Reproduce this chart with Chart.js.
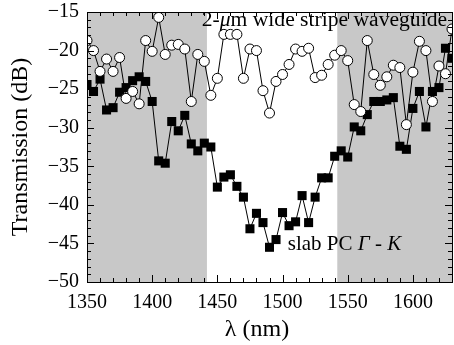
<!DOCTYPE html>
<html>
<head>
<meta charset="utf-8">
<script src="https://cdn.jsdelivr.net/npm/chart.js@4.4.1/dist/chart.umd.min.js"></script>
<style>
  html, body { margin: 0; padding: 0; background: #fff; }
  canvas { display: block; }
</style>
</head>
<body>
<canvas id="chart" width="454" height="345"></canvas>
<script>
// ==================== DATA ====================
const wavelengths = [
  1350, 1355, 1360, 1365, 1370, 1375, 1380, 1385, 1390, 1395,
  1400, 1405, 1410, 1415, 1420, 1425, 1430, 1435, 1440, 1445,
  1450, 1455, 1460, 1465, 1470, 1475, 1480, 1485, 1490, 1495,
  1500, 1505, 1510, 1515, 1520, 1525, 1530, 1535, 1540, 1545,
  1550, 1555, 1560, 1565, 1570, 1575, 1580, 1585, 1590, 1595,
  1600, 1605, 1610, 1615, 1620, 1625, 1630
];

// 2-um wide stripe waveguide (open circles)
const stripeDb = [
  -18.7, -20.0, -22.7, -21.1, -22.7, -20.9, -26.2, -25.3, -26.9, -18.7,
  -20.1, -15.7, -20.5, -19.3, -19.2, -19.8, -26.6, -20.5, -21.4, -25.8,
  -23.6, -17.9, -17.9, -17.9, -23.6, -19.8, -20.0, -25.2, -28.1, -24.0,
  -23.1, -21.8, -19.8, -20.1, -19.7, -23.5, -23.2, -21.8, -20.6, -20.0,
  -21.3, -27.0, -27.9, -18.7, -23.1, -24.5, -23.4, -21.9, -22.2, -29.6,
  -22.8, -18.8, -20.0, -26.6, -22.0, -23.0, -17.2
];

// slab PC Gamma-K (filled squares)
const slabDb = [
  -24.4, -25.3, -23.7, -27.7, -27.4, -25.4, -24.8, -23.9, -23.4, -24.0,
  -26.6, -34.3, -34.6, -29.2, -30.4, -28.4, -32.1, -33.0, -32.0, -32.5,
  -37.7, -36.4, -36.1, -37.6, -39.0, -43.1, -41.1, -42.3, -45.5, -44.5,
  -41.0, -42.7, -42.2, -38.8, -42.3, -39.0, -36.5, -36.5, -33.7, -33.0,
  -33.8, -29.9, -30.4, -28.3, -26.6, -26.6, -26.4, -26.1, -32.4, -32.8,
  -27.5, -25.3, -29.9, -25.3, -24.8, -19.7, -21.0
];

const xTicks = [1350, 1400, 1450, 1500, 1550, 1600];
const yTicks = [-50, -45, -40, -35, -30, -25, -20, -15];
const shadedBands = [[1350, 1442], [1542, 1630]];

// ==================== STYLE ====================
const FONT = "'Liberation Serif', 'DejaVu Serif', serif";
const INK = '#000';
const SHADE = '#c8c8c8';

// ==================== PLUGINS ====================
const shadePlugin = {
  id: 'shade',
  beforeDatasetsDraw(chart) {
    const { ctx, chartArea: a, scales: { x } } = chart;
    ctx.save();
    ctx.fillStyle = SHADE;
    shadedBands.forEach(([from, to]) => {
      const x0 = Math.max(a.left, x.getPixelForValue(from));
      const x1 = Math.min(a.right, x.getPixelForValue(to));
      ctx.fillRect(x0, a.top, x1 - x0, a.bottom - a.top);
    });
    ctx.restore();
  }
};

// draws one line of text made of [text, style] runs
function drawRuns(ctx, runs, x, y, size) {
  runs.forEach(([t, st]) => {
    ctx.font = st + size + 'px ' + FONT;
    ctx.fillText(t, x, y);
    x += ctx.measureText(t).width;
  });
}

const framePlugin = {
  id: 'frame',
  afterDatasetsDraw(chart) {
    const { ctx, chartArea: a, scales: { x, y } } = chart;
    ctx.save();
    ctx.strokeStyle = INK;
    ctx.lineWidth = 1;
    ctx.beginPath();
    // x ticks: major every 50, minor every 10, inward on top and bottom
    for (let v = x.min; v <= x.max + 0.01; v += 10) {
      const px = Math.round(x.getPixelForValue(v)) + 0.5;
      const len = (v - 1350) % 50 === 0 ? 7 : 4;
      ctx.moveTo(px, a.bottom); ctx.lineTo(px, a.bottom - len);
      ctx.moveTo(px, a.top); ctx.lineTo(px, a.top + len);
    }
    // y ticks: major every 5, minor every 1
    for (let v = y.min; v <= y.max + 0.01; v += 1) {
      const py = Math.round(y.getPixelForValue(v)) + 0.5;
      const len = v % 5 === 0 ? 7 : 4;
      ctx.moveTo(a.left, py); ctx.lineTo(a.left + len, py);
      ctx.moveTo(a.right, py); ctx.lineTo(a.right - len, py);
    }
    ctx.stroke();
    ctx.strokeRect(Math.round(a.left) + 0.5, Math.round(a.top) + 0.5,
                   Math.round(a.right - a.left), Math.round(a.bottom - a.top));
    ctx.restore();
  },
  afterDraw(chart) {
    const { ctx, chartArea: a, scales: { x, y } } = chart;
    ctx.save();
    ctx.fillStyle = INK;
    ctx.textBaseline = 'alphabetic';

    drawRuns(ctx, [['2-', ''], ['μ', 'italic '], ['m wide stripe waveguide', '']],
             x.getPixelForValue(1438), y.getPixelForValue(-16.8), 21.6);

    drawRuns(ctx, [['slab PC ', ''], ['Γ', 'italic '], [' - ', ''], ['K', 'italic ']],
             x.getPixelForValue(1504), y.getPixelForValue(-45.9), 21);

    // x axis title, sits a little left of the plot centre in the original
    ctx.font = '24px ' + FONT;
    ctx.textAlign = 'center';
    ctx.textBaseline = 'middle';
    ctx.fillText('λ (nm)', a.left + 170, a.bottom + 48);
    ctx.restore();
  }
};

// ==================== CHART ====================
const toPoints = arr => wavelengths.map((w, i) => ({ x: w, y: arr[i] }));
const minus = v => String(v).replace('-', '\u2212');

new Chart(document.getElementById('chart').getContext('2d'), {
  type: 'line',
  data: {
    datasets: [
      {
        label: '2-μm wide stripe waveguide',
        data: toPoints(stripeDb),
        borderColor: INK,
        borderWidth: 1,
        backgroundColor: '#fff',
        pointStyle: 'circle',
        pointRadius: 5,
        pointBorderWidth: 1,
        pointBorderColor: INK,
        pointBackgroundColor: '#fff',
        tension: 0
      },
      {
        label: 'slab PC Γ-K',
        data: toPoints(slabDb),
        borderColor: INK,
        borderWidth: 1,
        backgroundColor: INK,
        pointStyle: 'rect',
        pointRadius: 6.4,
        pointBorderWidth: 0,
        pointBackgroundColor: INK,
        tension: 0
      }
    ]
  },
  options: {
    responsive: false,
    animation: false,
    clip: 0,
    layout: { autoPadding: false, padding: { top: 12, right: 2, left: 0, bottom: 0 } },
    plugins: { legend: { display: false }, tooltip: { enabled: false } },
    scales: {
      x: {
        type: 'linear',
        min: 1350,
        max: 1630,
        afterBuildTicks: s => { s.ticks = xTicks.map(v => ({ value: v })); },
        afterFit: s => { s.height = 63; s.paddingLeft = 0; s.paddingRight = 0; },
        grid: { display: false, drawTicks: false },
        border: { display: false },
        ticks: { color: INK, padding: 9, maxRotation: 0, font: { family: FONT, size: 20 }, callback: v => String(v) },
        title: { display: false }
      },
      y: {
        min: -50,
        max: -15,
        afterBuildTicks: s => { s.ticks = yTicks.map(v => ({ value: v })); },
        afterFit: s => { s.width = 87; s.paddingTop = 0; s.paddingBottom = 0; },
        grid: { display: false, drawTicks: false },
        border: { display: false },
        ticks: { color: INK, padding: 8, font: { family: FONT, size: 20 }, callback: v => minus(v) },
        title: {
          display: true,
          text: 'Transmission (dB)',
          color: INK,
          padding: { top: 6, bottom: 0 },
          font: { family: FONT, size: 24 }
        }
      }
    }
  },
  plugins: [shadePlugin, framePlugin]
});
</script>
</body>
</html>
